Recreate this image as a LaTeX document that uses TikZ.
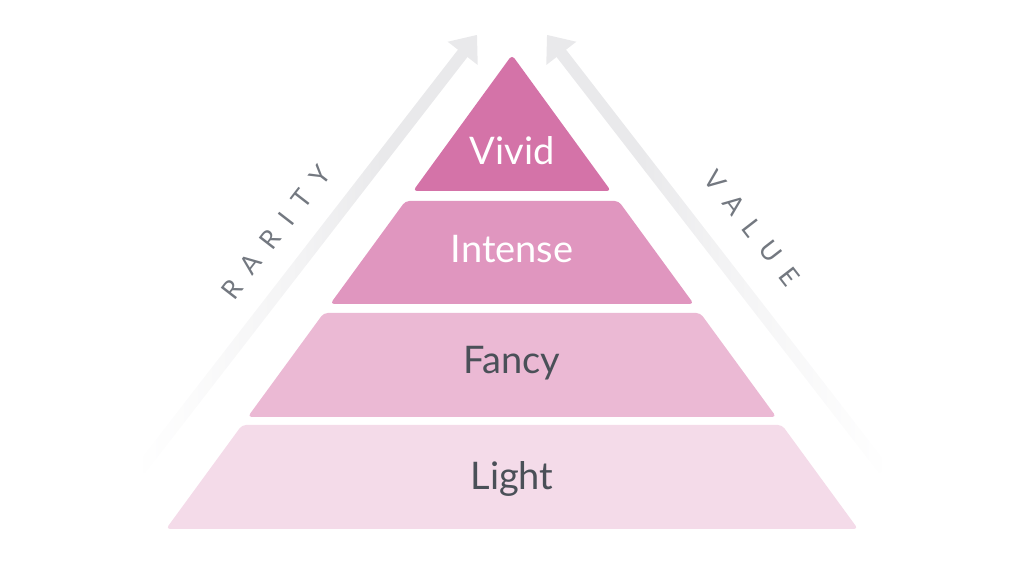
\documentclass[tikz,border=0pt]{standalone}
\usepackage{fontspec}
\setmainfont{Lato}
\newfontfamily\spacedfont{Lato}[LetterSpace=55]
\definecolor{vividc}{RGB}{212,115,168}
\definecolor{intensec}{RGB}{224,150,191}
\definecolor{fancyc}{RGB}{235,185,212}
\definecolor{lightc}{RGB}{244,219,233}
\definecolor{darktext}{RGB}{74,80,88}
\definecolor{labelgray}{RGB}{115,120,128}
\definecolor{arrowgray}{RGB}{233,233,235}
\pgfdeclarehorizontalshading{arrowfadeL}{100bp}{color(0bp)=(white); color(25bp)=(white); color(50bp)=(arrowgray!55!white); color(62bp)=(arrowgray); color(100bp)=(arrowgray)}
\pgfdeclarehorizontalshading{arrowfadeR}{100bp}{color(0bp)=(arrowgray); color(38bp)=(arrowgray); color(50bp)=(arrowgray!55!white); color(75bp)=(white); color(100bp)=(white)}
\begin{document}
\begin{tikzpicture}[x=1pt,y=1pt,
  layer/.style={rounded corners=4pt},
  layertext/.style={anchor=base,inner sep=0pt,font=\fontsize{38}{45}\selectfont},
  sidelabel/.style={inner sep=0pt,text=labelgray,font=\spacedfont\fontsize{26}{30}\selectfont}]
\useasboundingbox (0,0) rectangle (1024,577);
% arrows
\coordinate (ltail) at (140,107);
\coordinate (rtail) at (884,107);
\begin{scope}[shift={(ltail)},rotate=52.24]
  \shade[shading=arrowfadeL] (0,-6) rectangle (530,6);
  \fill[arrowgray] (527,-19) -- (550.3,0) -- (527,19) -- cycle;
\end{scope}
\begin{scope}[shift={(rtail)},rotate=127.76]
  \shade[shading=arrowfadeR] (0,-6) rectangle (530,6);
  \fill[arrowgray] (527,-19) -- (550.3,0) -- (527,19) -- cycle;
\end{scope}
% layers
\fill[layer,vividc] (413,386) -- (512,522) -- (611,386) -- cycle;
\fill[layer,intensec] (330.2,273) -- (405.4,376) -- (618.6,376) -- (693.8,273) -- cycle;
\fill[layer,fancyc] (247.7,160) -- (323.7,264) -- (700.3,264) -- (776.3,160) -- cycle;
\fill[layer,lightc] (166,48) -- (242,152) -- (782,152) -- (858,48) -- cycle;
% texts
\node[layertext,text=white] (vivid) at (512,412) {Vivid};
\node[layertext,text=white] (intense) at (512,314) {Intense};
\node[layertext,text=darktext] (fancy) at (512,203) {Fancy};
\node[layertext,text=darktext] (light) at (512,87) {Light};
\node[sidelabel,rotate=52.24] (rarity) at (276,345) {RARITY};
\node[sidelabel,rotate=-52.24] (value) at (752,349) {VALUE};
\end{tikzpicture}
\end{document}
